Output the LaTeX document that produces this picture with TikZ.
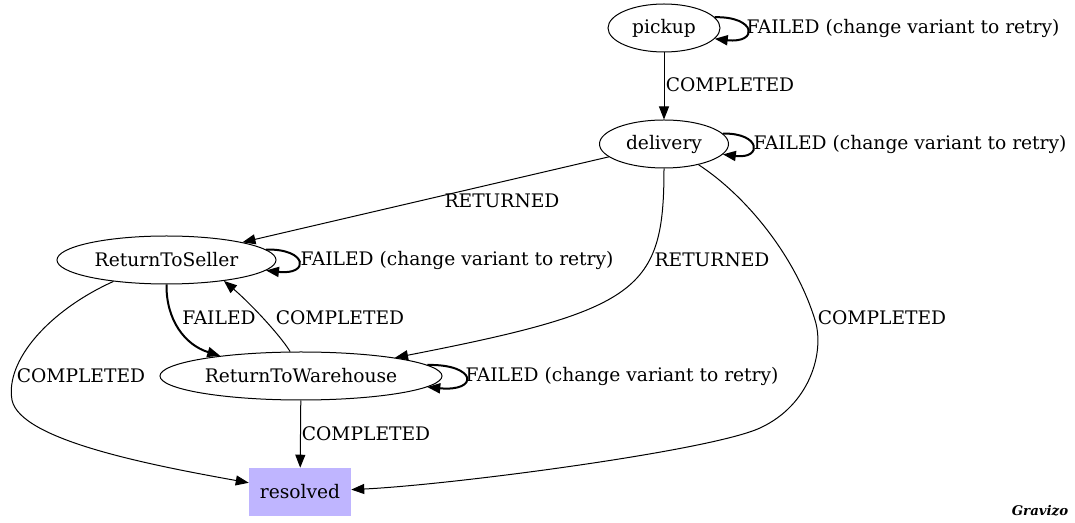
\documentclass[tikz,border=0pt]{standalone}
\usepackage{fontspec}
\setmainfont{DejaVu Serif}
\usetikzlibrary{arrows.meta,shapes.geometric}
\definecolor{resfill}{RGB}{191,181,255}
\begin{document}
\begin{tikzpicture}[x=0.75pt,y=-0.75pt,
  every node/.style={font=\fontsize{14pt}{17pt}\selectfont},
  st/.style={draw, ellipse, inner sep=0pt, minimum height=36pt, line width=0.75pt},
  res/.style={rectangle, fill=resfill, minimum width=76.5pt, minimum height=36pt, inner sep=0pt},
  edge/.style={line width=0.75pt, -{Triangle[length=9.75pt,width=7.5pt]}},
  bold/.style={edge, line width=1.5pt},
  lbl/.style={inner sep=0pt}
]
\path[use as bounding box] (0,0) rectangle (1075,523);

\node[st, minimum width=84pt] (pickup) at (664,28) {pickup};
\node[st, minimum width=96.75pt] (delivery) at (664,144) {delivery};
\node[st, minimum width=164.25pt] (rts) at (166.5,260) {ReturnToSeller};
\node[st, minimum width=211.5pt] (rtw) at (301,376) {ReturnToWarehouse};
\node[res] (resolved) at (300,492) {resolved};

% edges
\draw[edge] (pickup) -- (delivery);
\draw[bold] (pickup.12) .. controls +(42,-1) and +(44,5) .. (pickup.-12);
\draw[bold] (delivery.10) .. controls +(38,-1) and +(40,5) .. (delivery.-10);
\draw[edge] (delivery) -- (rts);
\draw[edge] (delivery.south) .. controls (664,290) and (640,310) .. (rtw);
\draw[edge] (delivery.-31) .. controls (745,195) and (795,255) .. (815,320)
  .. controls (825,352) and (810,405) .. (760,428)
  .. controls (710,451) and (450,485) .. (resolved);
\draw[bold] (rts.6) .. controls +(42,-1) and +(44,5) .. (rts.-6);
\draw[bold] (rts.south) .. controls (166,320) and (185,345) .. (rtw.166);
\draw[edge] (rtw.114) .. controls (280,335) and (250,303) .. (rts.-20.5);
\draw[edge] (rts.-158) .. controls (50,310) and (5,360) .. (12,400)
  .. controls (20,440) and (150,465) .. (resolved);
\draw[edge] (rtw) -- (resolved);
\draw[bold] (rtw.5) .. controls +(50,-1) and +(52,5) .. (rtw.-5);

% labels
\node[lbl] (l1) at (730,85) {COMPLETED};
\node[lbl] (l2) at (903,28) {FAILED (change variant to retry)};
\node[lbl] (l3) at (910,144) {FAILED (change variant to retry)};
\node[lbl] (l4) at (502,201) {RETURNED};
\node[lbl] (l5) at (712,260) {RETURNED};
\node[lbl] (l6) at (882,318) {COMPLETED};
\node[lbl] (l7) at (457,260) {FAILED (change variant to retry)};
\node[lbl] (l8) at (219,318) {FAILED};
\node[lbl] (l9) at (340,318) {COMPLETED};
\node[lbl] (l10) at (81,376) {COMPLETED};
\node[lbl] (l11) at (366,434) {COMPLETED};
\node[lbl] (l12) at (622,376) {FAILED (change variant to retry)};

\node[font=\bfseries\itshape\fontsize{10pt}{12pt}\selectfont] (logo) at (1040,511) {Gravizo};
\end{tikzpicture}
\end{document}
